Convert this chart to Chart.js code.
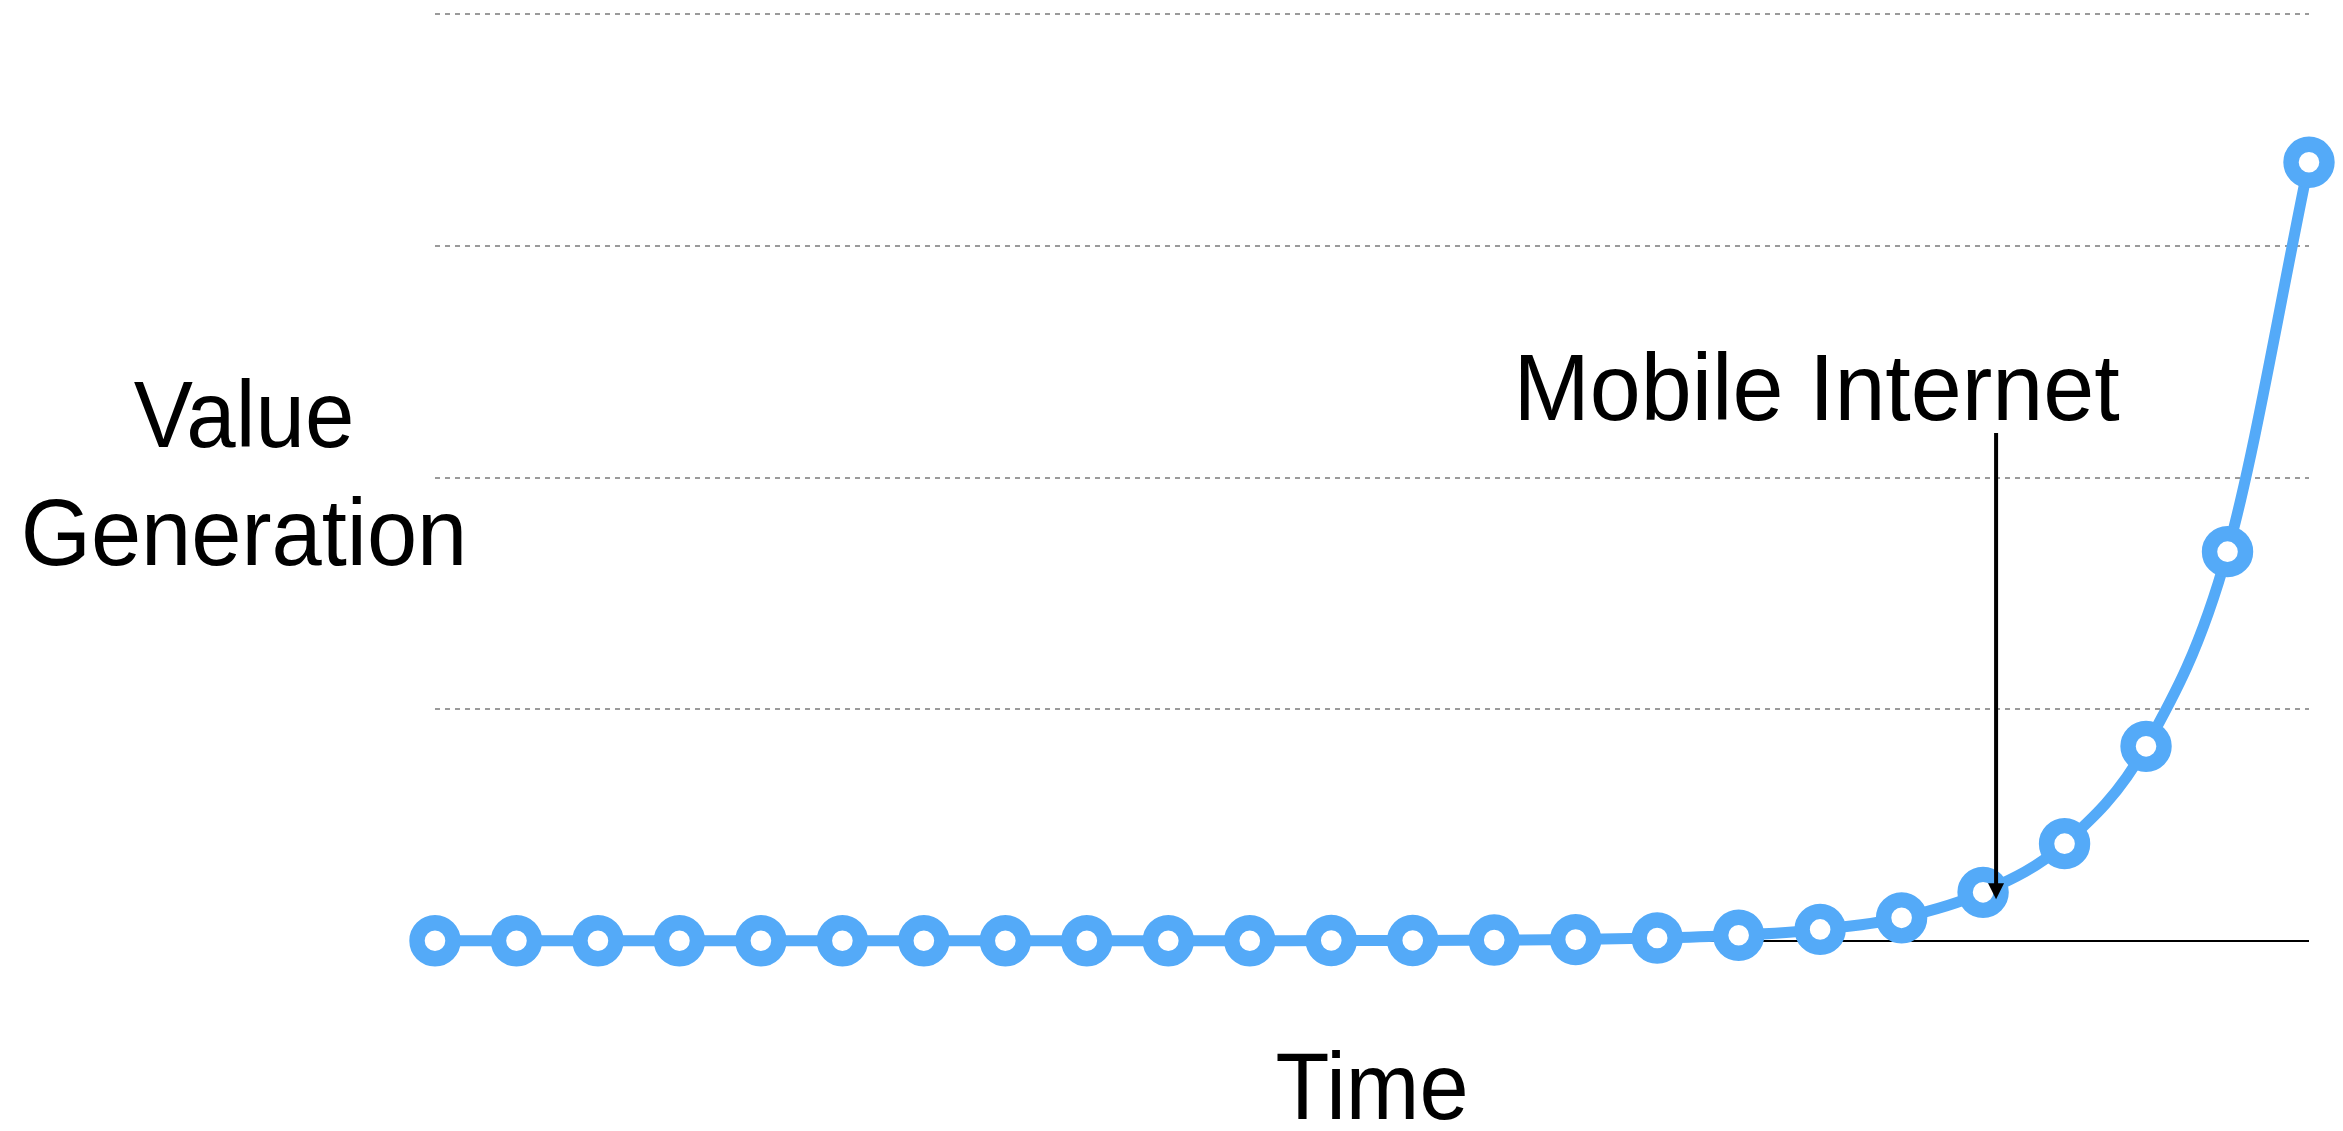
<!DOCTYPE html>
<html>
<head>
<meta charset="utf-8">
<script src="https://cdn.jsdelivr.net/npm/chart.js@4"></script>
<style>
  html, body { margin: 0; padding: 0; background: #ffffff; }
  #wrap { width: 2343px; height: 1131px; position: relative; }
</style>
</head>
<body>
<div id="wrap"><canvas id="chart"></canvas></div>
<script>
// Time steps along the horizontal axis (unlabelled on the chart)
const periods = ['1', '2', '3', '4', '5', '6', '7', '8', '9', '10', '11', '12',
                 '13', '14', '15', '16', '17', '18', '19', '20', '21', '22', '23', '24'];

// Value generated at each step
const valueGeneration = [0.001, 0.001, 0.001, 0.001, 0.001, 0.001, 0.001, 0.001,
                         0.001, 0.001, 0.001, 0.002, 0.002, 0.004, 0.006, 0.013,
                         0.025, 0.05, 0.10, 0.21, 0.42, 0.84, 1.68, 3.36];

// Gridline values on the vertical axis
const yGridTicks = [0, 1, 2, 3, 4];

// Annotated step
const annotationIndex = 19;
const annotationText = 'Mobile Internet';

const xTitle = 'Time';
const yTitleLines = ['Value', 'Generation'];

const BLUE = '#54aaf8';
const FONT = '"Liberation Sans", Arial, Helvetica, sans-serif';

function drawText(ctx, text, cx, baseline, size, squeeze) {
  ctx.save();
  ctx.translate(cx, baseline);
  ctx.scale(squeeze, 1);
  ctx.font = size + 'px ' + FONT;
  ctx.fillStyle = '#000000';
  ctx.textAlign = 'center';
  ctx.textBaseline = 'alphabetic';
  ctx.fillText(text, 0, 0);
  ctx.restore();
}

// Solid zero line beneath the series
const baselinePlugin = {
  id: 'baseline',
  beforeDatasetsDraw(chart) {
    const { ctx, chartArea, scales } = chart;
    const y = scales.y.getPixelForValue(0);
    ctx.save();
    ctx.strokeStyle = '#000000';
    ctx.lineWidth = 2;
    ctx.beginPath();
    ctx.moveTo(chartArea.left, y);
    ctx.lineTo(chartArea.right, y);
    ctx.stroke();
    ctx.restore();
  }
};

// Axis captions and the arrow callout
const labelsPlugin = {
  id: 'captions',
  afterDatasetsDraw(chart) {
    const { ctx, chartArea, scales } = chart;

    // horizontal y-axis caption, two lines
    drawText(ctx, yTitleLines[0], 244, 447, 95, 0.935);
    drawText(ctx, yTitleLines[1], 244, 565, 95, 0.95);

    // x-axis caption centred under the plot
    drawText(ctx, xTitle, (chartArea.left + chartArea.right) / 2, 1119, 95, 0.93);

    // callout arrow pointing at the annotated step
    const px = scales.x.getPixelForValue(annotationIndex);
    const py = scales.y.getPixelForValue(valueGeneration[annotationIndex]);
    const ax = px + 13;
    const tipY = py + 7;
    const topY = 433;
    ctx.save();
    ctx.strokeStyle = '#000000';
    ctx.fillStyle = '#000000';
    ctx.lineWidth = 4;
    ctx.beginPath();
    ctx.moveTo(ax, topY);
    ctx.lineTo(ax, tipY - 14);
    ctx.stroke();
    ctx.beginPath();
    ctx.moveTo(ax, tipY);
    ctx.lineTo(ax - 8, tipY - 16);
    ctx.lineTo(ax + 8, tipY - 16);
    ctx.closePath();
    ctx.fill();
    ctx.restore();

    drawText(ctx, annotationText, ax - 179.5, 420, 95, 0.965);
  }
};

new Chart(document.getElementById('chart'), {
  type: 'line',
  data: {
    labels: periods,
    datasets: [{
      label: 'Value Generation',
      data: valueGeneration,
      borderColor: BLUE,
      borderWidth: 11,
      fill: false,
      cubicInterpolationMode: 'monotone',
      pointRadius: 18,
      pointHoverRadius: 18,
      pointBorderWidth: 15.4,
      pointBackgroundColor: '#ffffff',
      pointBorderColor: BLUE,
      clip: false
    }]
  },
  options: {
    responsive: true,
    maintainAspectRatio: false,
    animation: false,
    devicePixelRatio: 1,
    layout: {
      autoPadding: false,
      padding: { left: 435, right: 34, top: 14, bottom: 190 }
    },
    plugins: {
      legend: { display: false },
      tooltip: { enabled: false },
      title: { display: false }
    },
    scales: {
      x: {
        type: 'category',
        display: false,
        offset: false
      },
      y: {
        display: true,
        min: yGridTicks[0],
        max: yGridTicks[yGridTicks.length - 1],
        afterBuildTicks(scale) {
          scale.ticks = yGridTicks.map(v => ({ value: v }));
        },
        ticks: { display: false },
        grid: {
          drawTicks: false,
          lineWidth: 2,
          color: (c) => (c.tick && c.tick.value === 0) ? 'rgba(0,0,0,0)' : '#9a9a9a'
        },
        border: { display: false, dash: [5, 5] }
      }
    }
  },
  plugins: [baselinePlugin, labelsPlugin]
});
</script>
</body>
</html>
